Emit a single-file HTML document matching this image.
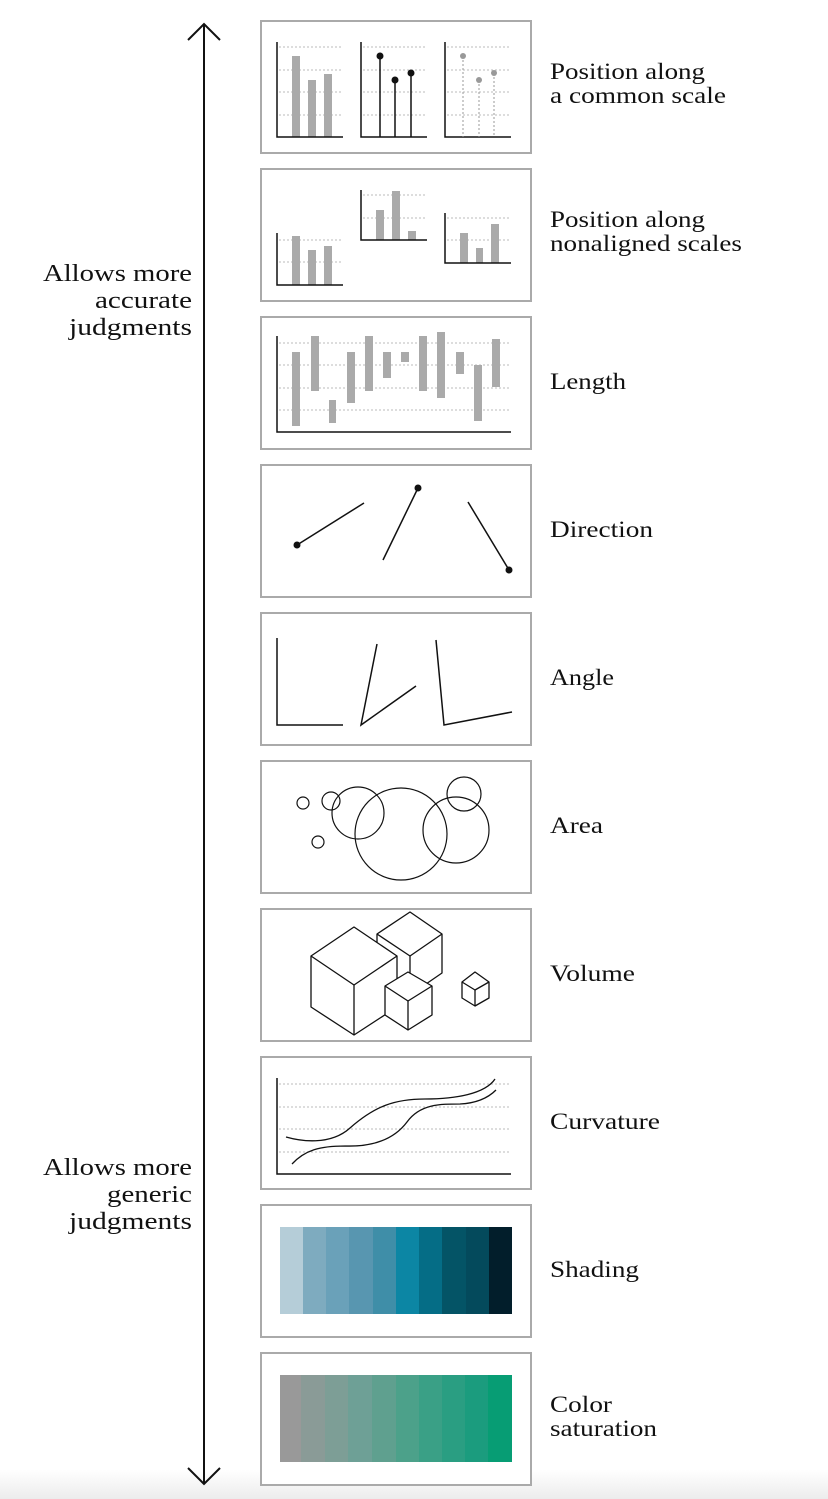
<!DOCTYPE html>
<html><head><meta charset="utf-8"><style>
html,body{margin:0;padding:0;background:#fff;}
svg{display:block;}
text{font-family:"Liberation Serif",serif;fill:#111;}
</style></head><body>
<svg width="828" height="1499" viewBox="0 0 828 1499" xmlns="http://www.w3.org/2000/svg">
<defs>
<linearGradient id="bg" x1="0" y1="0" x2="0" y2="1"><stop offset="0" stop-color="#fff"/><stop offset="1" stop-color="#ececec"/></linearGradient>
</defs>
<rect x="0" y="1470" width="828" height="29" fill="url(#bg)"/>
<g stroke="#111" stroke-width="2" fill="none">
<line x1="204" y1="24" x2="204" y2="1484"/>
<polyline points="188,40 204,24 220,40"/>
<polyline points="188,1468 204,1484 220,1468"/>
</g>
<g font-size="24">
<text x="43" y="281" textLength="149" lengthAdjust="spacingAndGlyphs">Allows more</text>
<text x="95" y="308" textLength="97" lengthAdjust="spacingAndGlyphs">accurate</text>
<text x="69" y="335" textLength="123" lengthAdjust="spacingAndGlyphs">judgments</text>
<text x="43" y="1175" textLength="149" lengthAdjust="spacingAndGlyphs">Allows more</text>
<text x="107" y="1202" textLength="85" lengthAdjust="spacingAndGlyphs">generic</text>
<text x="69" y="1229" textLength="123" lengthAdjust="spacingAndGlyphs">judgments</text>
</g>
<g fill="#fff" stroke="#aaa" stroke-width="2">
<rect x="261" y="21" width="270" height="132"/>
<rect x="261" y="169" width="270" height="132"/>
<rect x="261" y="317" width="270" height="132"/>
<rect x="261" y="465" width="270" height="132"/>
<rect x="261" y="613" width="270" height="132"/>
<rect x="261" y="761" width="270" height="132"/>
<rect x="261" y="909" width="270" height="132"/>
<rect x="261" y="1057" width="270" height="132"/>
<rect x="261" y="1205" width="270" height="132"/>
<rect x="261" y="1353" width="270" height="132"/>
</g>
<g font-size="23">
<text x="550" y="79" textLength="155" lengthAdjust="spacingAndGlyphs">Position along</text>
<text x="550" y="103" textLength="176" lengthAdjust="spacingAndGlyphs">a common scale</text>
<text x="550" y="227" textLength="155" lengthAdjust="spacingAndGlyphs">Position along</text>
<text x="550" y="251" textLength="192" lengthAdjust="spacingAndGlyphs">nonaligned scales</text>
<text x="550" y="389" textLength="76" lengthAdjust="spacingAndGlyphs">Length</text>
<text x="550" y="537" textLength="103" lengthAdjust="spacingAndGlyphs">Direction</text>
<text x="550" y="685" textLength="64" lengthAdjust="spacingAndGlyphs">Angle</text>
<text x="550" y="833" textLength="53" lengthAdjust="spacingAndGlyphs">Area</text>
<text x="550" y="981" textLength="85" lengthAdjust="spacingAndGlyphs">Volume</text>
<text x="550" y="1129" textLength="110" lengthAdjust="spacingAndGlyphs">Curvature</text>
<text x="550" y="1277" textLength="89" lengthAdjust="spacingAndGlyphs">Shading</text>
<text x="550" y="1412" textLength="62" lengthAdjust="spacingAndGlyphs">Color</text>
<text x="550" y="1436" textLength="107" lengthAdjust="spacingAndGlyphs">saturation</text>
</g>
<g stroke="#bbb" stroke-width="1" stroke-dasharray="2,2">
<line x1="279" y1="47" x2="343" y2="47"/><line x1="279" y1="70" x2="343" y2="70"/><line x1="279" y1="92" x2="343" y2="92"/><line x1="279" y1="115" x2="343" y2="115"/>
<line x1="363" y1="47" x2="427" y2="47"/><line x1="363" y1="70" x2="427" y2="70"/><line x1="363" y1="92" x2="427" y2="92"/><line x1="363" y1="115" x2="427" y2="115"/>
<line x1="447" y1="47" x2="511" y2="47"/><line x1="447" y1="70" x2="511" y2="70"/><line x1="447" y1="92" x2="511" y2="92"/><line x1="447" y1="115" x2="511" y2="115"/>
</g>
<g fill="#aaa">
<rect x="292" y="56" width="8" height="81"/><rect x="308" y="80" width="8" height="57"/><rect x="324" y="74" width="8" height="63"/>
</g>
<g stroke="#111" stroke-width="1.5" fill="none">
<polyline points="277,42 277,137 343,137"/><polyline points="361,42 361,137 427,137"/><polyline points="445,42 445,137 511,137"/>
<line x1="380" y1="56" x2="380" y2="137"/><line x1="395" y1="80" x2="395" y2="137"/><line x1="411" y1="73" x2="411" y2="137"/>
</g>
<g fill="#111"><circle cx="380" cy="56" r="3.5"/><circle cx="395" cy="80" r="3.5"/><circle cx="411" cy="73" r="3.5"/></g>
<g stroke="#999" stroke-width="1" stroke-dasharray="2,2">
<line x1="463" y1="56" x2="463" y2="137"/><line x1="479" y1="80" x2="479" y2="137"/><line x1="494" y1="73" x2="494" y2="137"/>
</g>
<g fill="#999"><circle cx="463" cy="56" r="3"/><circle cx="479" cy="80" r="3"/><circle cx="494" cy="73" r="3"/></g>
<g stroke="#bbb" stroke-width="1" stroke-dasharray="2,2">
<line x1="279" y1="240" x2="343" y2="240"/><line x1="279" y1="262" x2="343" y2="262"/>
<line x1="363" y1="195" x2="427" y2="195"/><line x1="363" y1="218" x2="427" y2="218"/>
<line x1="447" y1="218" x2="511" y2="218"/><line x1="447" y1="240" x2="511" y2="240"/>
</g>
<g fill="#aaa">
<rect x="292" y="236" width="8" height="49"/><rect x="308" y="250" width="8" height="35"/><rect x="324" y="246" width="8" height="39"/>
<rect x="376" y="210" width="8" height="30"/><rect x="392" y="191" width="8" height="49"/><rect x="408" y="231" width="8" height="9"/>
<rect x="460" y="233" width="8" height="30"/><rect x="476" y="248" width="7" height="15"/><rect x="491" y="224" width="8" height="39"/>
</g>
<g stroke="#111" stroke-width="1.5" fill="none">
<polyline points="277,233 277,285 343,285"/><polyline points="361,190 361,240 427,240"/><polyline points="445,213 445,263 511,263"/>
</g>
<g stroke="#bbb" stroke-width="1" stroke-dasharray="2,2">
<line x1="279" y1="343" x2="511" y2="343"/><line x1="279" y1="365" x2="511" y2="365"/><line x1="279" y1="388" x2="511" y2="388"/><line x1="279" y1="410" x2="511" y2="410"/>
</g>
<g fill="#aaa">
<rect x="292" y="352" width="8" height="74"/><rect x="311" y="336" width="8" height="55"/><rect x="329" y="400" width="7" height="23"/>
<rect x="347" y="352" width="8" height="51"/><rect x="365" y="336" width="8" height="55"/><rect x="383" y="352" width="8" height="26"/>
<rect x="401" y="352" width="8" height="10"/><rect x="419" y="336" width="8" height="55"/><rect x="437" y="332" width="8" height="66"/>
<rect x="456" y="352" width="8" height="22"/><rect x="474" y="365" width="8" height="56"/><rect x="492" y="339" width="8" height="48"/>
</g>
<polyline points="277,336 277,432 511,432" stroke="#111" stroke-width="1.5" fill="none"/>
<g stroke="#111" stroke-width="1.5" fill="none">
<line x1="297" y1="545" x2="364" y2="503"/><line x1="383" y1="560" x2="418" y2="488"/><line x1="468" y1="502" x2="509" y2="570"/>
</g>
<g fill="#111"><circle cx="297" cy="545" r="3.5"/><circle cx="418" cy="488" r="3.5"/><circle cx="509" cy="570" r="3.5"/></g>
<g stroke="#111" stroke-width="1.5" fill="none">
<polyline points="277,638 277,725 343,725"/>
<polyline points="377,644 361,725 416,686"/>
<polyline points="436,640 444,725 512,712"/>
</g>
<g stroke="#111" stroke-width="1.2" fill="none">
<circle cx="303" cy="803" r="6"/><circle cx="331" cy="801" r="9"/><circle cx="358" cy="813" r="26"/>
<circle cx="401" cy="834" r="46"/><circle cx="456" cy="830" r="33"/><circle cx="464" cy="794" r="17"/><circle cx="318" cy="842" r="6"/>
</g>
<g stroke="#111" stroke-width="1.3" fill="#fff" stroke-linejoin="round">
<polygon points="410,912 442,934 442,973 410,995 377,973 377,934"/>
<polyline points="377,934 410,956 442,934" fill="none"/>
<line x1="410" y1="956" x2="410" y2="995"/>
<polygon points="354,927 397,956 397,1007 354,1035 311,1007 311,956"/>
<polyline points="311,956 354,985 397,956" fill="none"/>
<line x1="354" y1="985" x2="354" y2="1035"/>
<polygon points="408,972 432,986 432,1015 408,1030 385,1015 385,986"/>
<polyline points="385,986 408,1001 432,986" fill="none"/>
<line x1="408" y1="1001" x2="408" y2="1030"/>
<polygon points="475,972 489,982 489,998 475,1006 462,998 462,982"/>
<polyline points="462,982 475,990 489,982" fill="none"/>
<line x1="475" y1="990" x2="475" y2="1006"/>
</g>
<g stroke="#bbb" stroke-width="1" stroke-dasharray="2,2">
<line x1="279" y1="1084" x2="511" y2="1084"/><line x1="279" y1="1107" x2="511" y2="1107"/><line x1="279" y1="1129" x2="511" y2="1129"/><line x1="279" y1="1152" x2="511" y2="1152"/>
</g>
<polyline points="277,1078 277,1174 511,1174" stroke="#111" stroke-width="1.5" fill="none"/>
<g stroke="#111" stroke-width="1.3" fill="none">
<path d="M286,1137 C300,1141 330,1146 350,1128 C375,1106 395,1099 425,1099 C455,1099 485,1094 495,1079"/>
<path d="M292,1164 C305,1150 320,1146 345,1146 C375,1147 395,1138 407,1122 C420,1104 440,1104 460,1104 C480,1103 490,1096 496,1090"/>
</g>
<g>
<rect x="280" y="1227" width="24" height="87" fill="#b5cdd8"/>
<rect x="303" y="1227" width="24" height="87" fill="#7eabbf"/>
<rect x="326" y="1227" width="24" height="87" fill="#6aa1b9"/>
<rect x="349" y="1227" width="24" height="87" fill="#5896b0"/>
<rect x="373" y="1227" width="24" height="87" fill="#3f8ea8"/>
<rect x="396" y="1227" width="24" height="87" fill="#0c86a4"/>
<rect x="419" y="1227" width="24" height="87" fill="#056d86"/>
<rect x="442" y="1227" width="24" height="87" fill="#045466"/>
<rect x="466" y="1227" width="24" height="87" fill="#044a5c"/>
<rect x="489" y="1227" width="23" height="87" fill="#021e2b"/>
</g>
<g>
<rect x="280" y="1375" width="22" height="87" fill="#999999"/>
<rect x="301" y="1375" width="25" height="87" fill="#8a9b97"/>
<rect x="325" y="1375" width="24" height="87" fill="#7d9e96"/>
<rect x="348" y="1375" width="25" height="87" fill="#6ea096"/>
<rect x="372" y="1375" width="25" height="87" fill="#5fa08f"/>
<rect x="396" y="1375" width="24" height="87" fill="#4ca18a"/>
<rect x="419" y="1375" width="24" height="87" fill="#3aa086"/>
<rect x="442" y="1375" width="24" height="87" fill="#2a9e82"/>
<rect x="465" y="1375" width="24" height="87" fill="#1b9c7e"/>
<rect x="488" y="1375" width="24" height="87" fill="#079d74"/>
</g>
</svg>
</body></html>
